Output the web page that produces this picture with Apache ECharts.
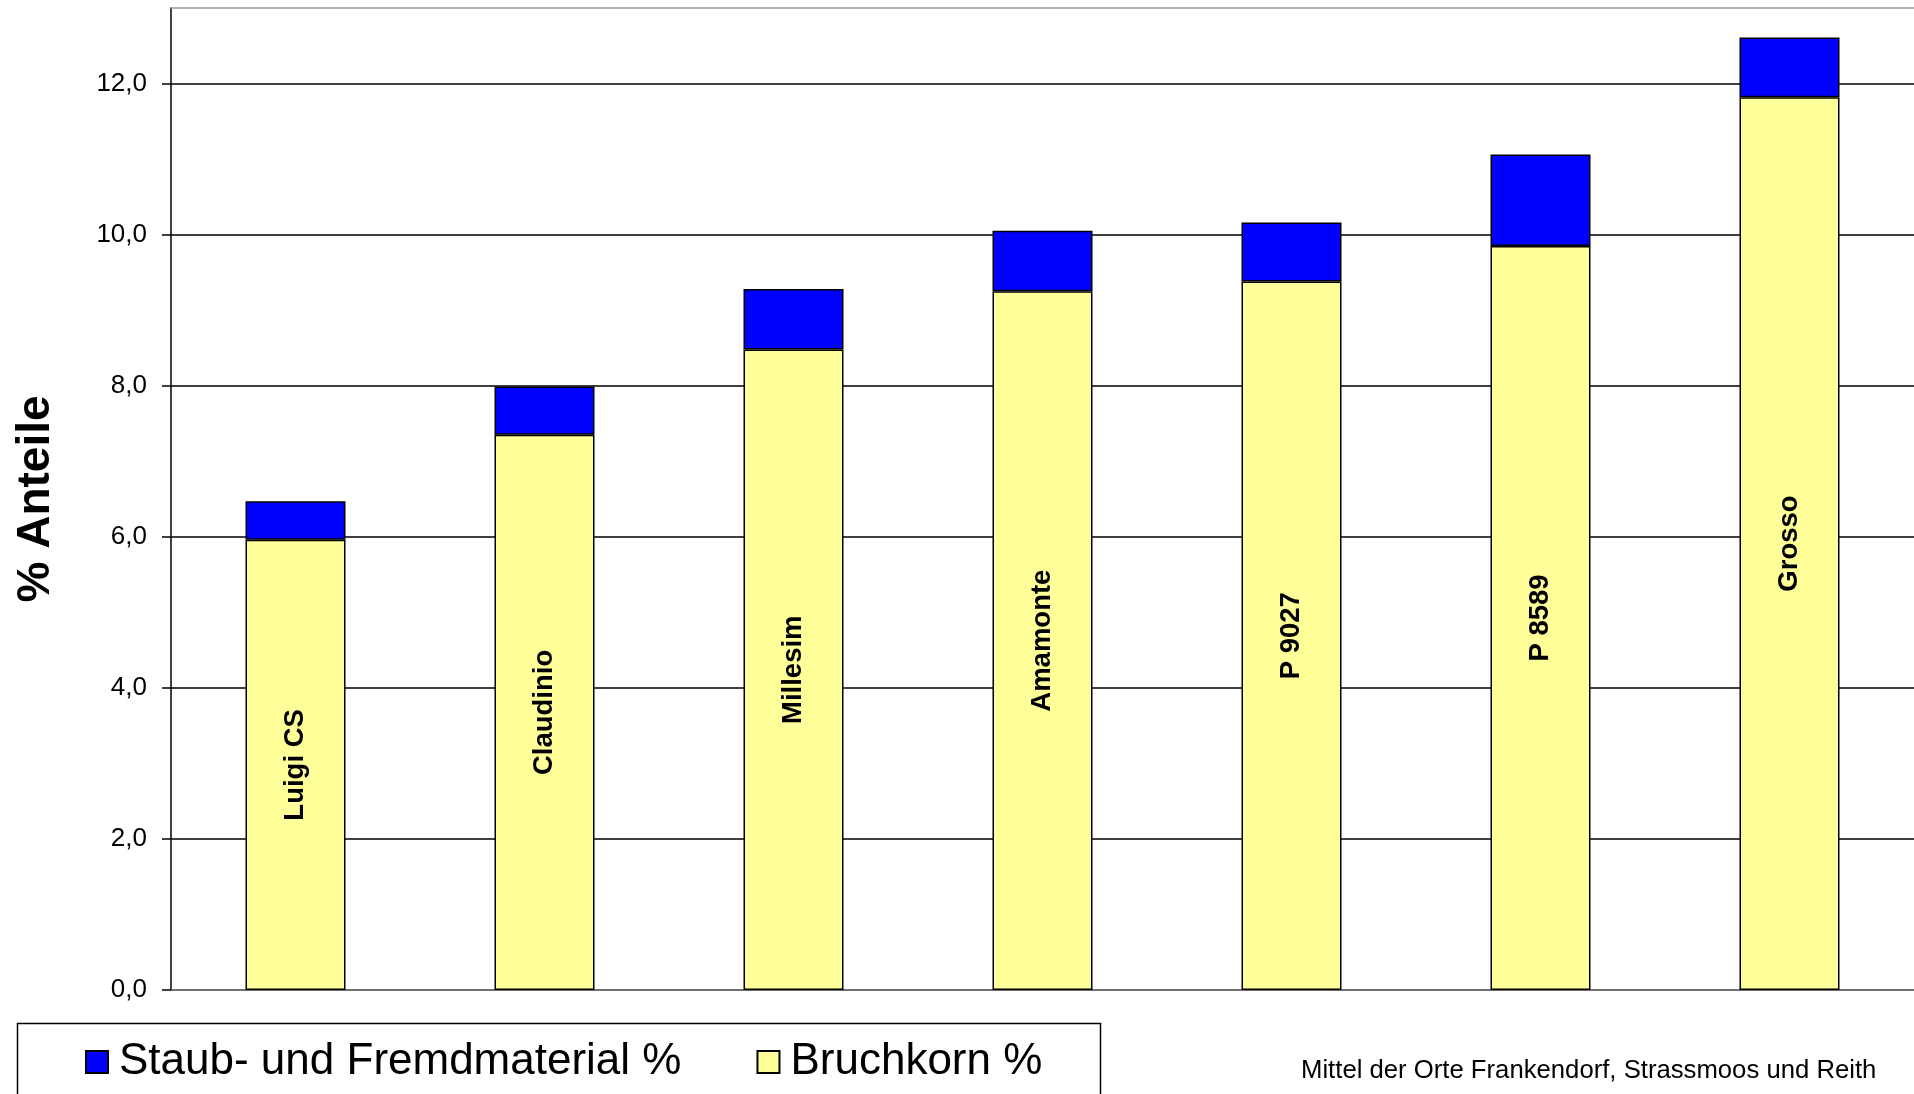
<!DOCTYPE html>
<html>
<head>
<meta charset="utf-8">
<script src="https://cdn.jsdelivr.net/npm/echarts@6/dist/echarts.min.js"></script>
<style>
  html, body { margin: 0; padding: 0; background: #fff; }
  #chart { width: 1914px; height: 1094px; }
</style>
</head>
<body>
<div id="chart"></div>
<script>
var sorten = ['Luigi CS', 'Claudinio', 'Millesim', 'Amamonte', 'P 9027', 'P 8589', 'Grosso'];
var bruchkorn = [5.96, 7.35, 8.48, 9.25, 9.38, 9.85, 11.82];
var staub = [0.51, 0.64, 0.80, 0.80, 0.78, 1.21, 0.79];
var yTicks = [0, 2, 4, 6, 8, 10, 12];

var myChart = echarts.init(document.getElementById('chart'));

var font = 'Liberation Sans, Arial, sans-serif';

var option = {
    animation: false,
    textStyle: { fontFamily: font },
    grid: {
        left: 171,
        top: 8,
        right: 0,
        bottom: 104,
        outerBoundsMode: 'none'
    },
    legend: {
        data: ['Staub- und Fremdmaterial %', 'Bruchkorn %'],
        left: 80,
        top: 1035,
        itemWidth: 22,
        itemHeight: 22,
        itemGap: 75,
        icon: 'rect',
        textStyle: { fontSize: 44, color: '#000', fontFamily: font, padding: [0, 0, 0, 6] }
    },
    graphic: [
        {
            type: 'rect',
            left: 15,
            top: 1021,
            shape: { width: 1083, height: 90 },
            style: { fill: 'none', stroke: '#000', lineWidth: 1.5 }
        },
        {
            type: 'text',
            left: 1301,
            top: 1058,
            style: {
                text: 'Mittel der Orte Frankendorf, Strassmoos und Reith',
                fontSize: 25.7,
                fontFamily: font,
                fill: '#000'
            }
        }
    ],
    xAxis: [
        {
            type: 'category',
            data: sorten,
            axisLine: { lineStyle: { color: '#808080', width: 1.5 } },
            axisTick: { show: false },
            axisLabel: { show: false }
        },
        {
            // obere Rahmenlinie
            type: 'category',
            position: 'top',
            data: sorten,
            axisLine: { show: true, lineStyle: { color: '#999', width: 1.5 } },
            axisTick: { show: false },
            axisLabel: { show: false }
        }
    ],
    yAxis: {
        type: 'value',
        min: 0,
        max: 13,
        interval: 2,
        name: '% Anteile',
        nameLocation: 'middle',
        nameGap: 112,
        nameTextStyle: { fontSize: 46, fontWeight: 'bold', color: '#000', fontFamily: font },
        axisLine: { show: true, lineStyle: { color: '#000', width: 1.5 } },
        axisTick: { show: true, inside: false, length: 9, customValues: yTicks, lineStyle: { color: '#000', width: 1.5 } },
        axisLabel: {
            margin: 24,
            fontSize: 26,
            color: '#000',
            fontFamily: font,
            customValues: yTicks,
            formatter: function (v) { return v.toFixed(1).replace('.', ','); }
        },
        splitLine: {
            show: true,
            lineStyle: { color: '#000', width: 1.5 }
        }
    },
    series: [
        {
            name: 'Bruchkorn %',
            type: 'bar',
            stack: 'gesamt',
            barWidth: 100,
            data: bruchkorn,
            itemStyle: { color: '#FFFF99', borderColor: '#000', borderWidth: 1.5 },
            label: {
                show: true,
                position: 'inside',
                rotate: 90,
                formatter: '{b}',
                fontSize: 27.5,
                fontWeight: 'bold',
                color: '#000',
                fontFamily: font
            }
        },
        {
            name: 'Staub- und Fremdmaterial %',
            type: 'bar',
            stack: 'gesamt',
            barWidth: 100,
            data: staub,
            itemStyle: { color: '#0000FF', borderColor: '#000', borderWidth: 1.5 }
        }
    ]
};

myChart.setOption(option);
</script>
</body>
</html>
